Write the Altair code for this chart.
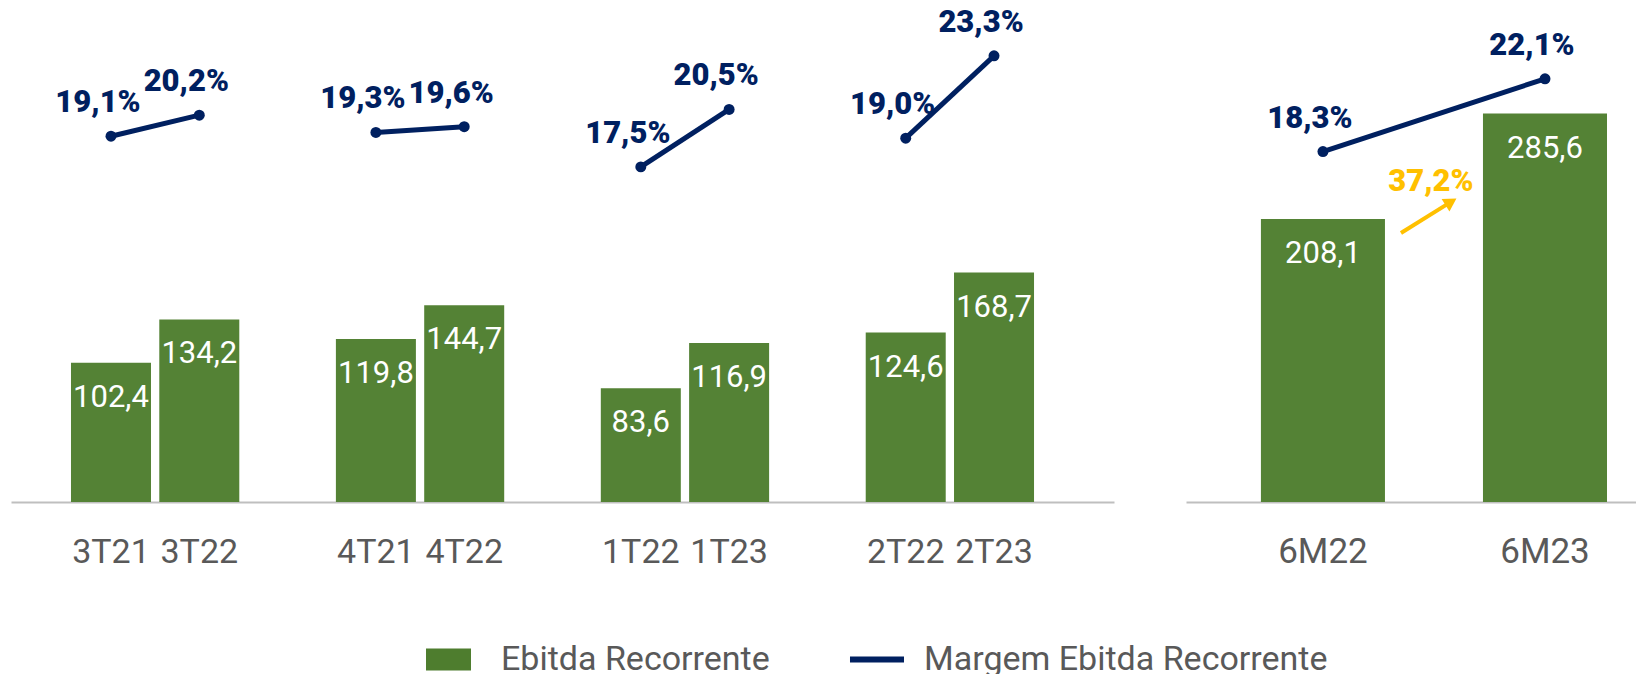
import altair as alt
import pandas as pd

# ---------------- data ----------------
left_periods = ["3T21", "3T22", "4T21", "4T22", "1T22", "1T23", "2T22", "2T23"]
left_pairs = ["3T", "3T", "4T", "4T", "1T", "1T", "2T", "2T"]
left_ebitda = [102.4, 134.2, 119.8, 144.7, 83.6, 116.9, 124.6, 168.7]
left_margin = [19.1, 20.2, 19.3, 19.6, 17.5, 20.5, 19.0, 23.3]
# axis slots (underscore entries are empty spacers between the pairs)
left_slots = ["3T21", "3T22", "_1", "4T21", "4T22", "_2", "1T22", "1T23", "_3", "2T22", "2T23"]

right_periods = ["6M22", "6M23"]
right_pairs = ["6M", "6M"]
right_ebitda = [208.1, 285.6]
right_margin = [18.3, 22.1]

growth_text = ["37,2%"]

legend_series = ["Ebitda Recorrente", "Margem Ebitda Recorrente"]

# ---------------- styling ----------------
GREEN = "#548235"
LEG_GREEN = "#4E7D2E"
NAVY = "#002060"
YELLOW = "#FFC000"
GREY = "#595959"
FONT = "Roboto"

PLOT_H = 494
EB_DOM = [0, PLOT_H / 1.36]
MG_DOM = [0, PLOT_H / 19.15]


def fmt(v):
    return f"{v:.1f}".replace(".", ",")


def make_df(periods, pairs, ebitda, margin):
    df = pd.DataFrame({"period": periods, "pair": pairs, "ebitda": ebitda, "margem": margin})
    df["ebitda_lbl"] = df["ebitda"].map(fmt)
    df["margem_lbl"] = df["margem"].map(lambda v: fmt(v) + "%")
    return df


left_df = make_df(left_periods, left_pairs, left_ebitda, left_margin)
right_df = make_df(right_periods, right_pairs, right_ebitda, right_margin)


def x_axis(size):
    return alt.Axis(
        title=None, labelFont=FONT, labelFontSize=size, labelColor=GREY,
        labelPadding=60, labelBaseline="alphabetic", ticks=False, tickSize=0,
        domainColor="#BFBFBF", domainWidth=2, labelAngle=0, labelOverlap=False,
        labelExpr="slice(datum.value,0,1)=='_' ? '' : datum.value", grid=False,
    )


def eb_y(field="ebitda:Q"):
    return alt.Y(field, scale=alt.Scale(domain=EB_DOM), axis=None)


def mg_y():
    return alt.Y("margem:Q", scale=alt.Scale(domain=MG_DOM), axis=None)


def panel(df, xscale, axis, width, extra):
    base = alt.Chart(df)
    x = alt.X("period:N", scale=xscale, axis=axis, sort=None)
    bars = base.mark_bar(color=GREEN).encode(x=x, y=eb_y())
    bar_txt = base.mark_text(
        font=FONT, fontSize=31, color="white", baseline="alphabetic", align="center", dy=44
    ).encode(x=x, y=eb_y(), text="ebitda_lbl:N")
    line = base.mark_line(color=NAVY, strokeWidth=5).encode(x=x, y=mg_y(), detail="pair:N")
    pts = base.mark_point(filled=True, size=120, color=NAVY, opacity=1).encode(x=x, y=mg_y())
    m_txt = base.mark_text(
        font=FONT, fontSize=31, fontWeight=900, color=NAVY,
        baseline="alphabetic", align="center", dx=-13, dy=-24,
    ).encode(x=x, y=mg_y(), text="margem_lbl:N")
    layers = [bars, bar_txt, line, pts, m_txt] + extra
    return alt.layer(*layers).resolve_scale(y="independent").properties(width=width, height=PLOT_H)


# legend (symbols: filled rectangle and thin bar for the line)
RECT_PATH = "M-2.045,-1H2.045V1H-2.045Z"
LINE_PATH = "M-1.955,-0.273H2.955V0.273H-1.955Z"
leg = alt.Legend(
    title=None, orient="none", legendX=420.5, legendY=634.5, direction="horizontal",
    symbolSize=484, labelOffset=35.5, columnPadding=79, labelFont=FONT,
    labelFontSize=34, labelColor=GREY, labelLimit=800, symbolStrokeWidth=0,
    symbolOpacity=1, padding=0,
)
legend_df = pd.DataFrame({"series": legend_series})
legend_layer = alt.Chart(legend_df).transform_filter("false").mark_point(filled=True).encode(
    color=alt.Color("series:N", scale=alt.Scale(domain=legend_series, range=[LEG_GREEN, NAVY]), legend=leg),
    shape=alt.Shape("series:N", scale=alt.Scale(domain=legend_series, range=[RECT_PATH, LINE_PATH]), legend=leg),
)

left_scale = alt.Scale(domain=left_slots, paddingInner=0.094, paddingOuter=0.7925, align=0.4286)
right_scale = alt.Scale(domain=right_periods, paddingInner=0.4414, paddingOuter=0.234, align=0.721)
left_axis = x_axis(34)
right_axis = x_axis(35)

growth_df = pd.DataFrame({"txt": growth_text})
# growth arrow: from just right of the 6M22 bar to just left of the 6M23 bar
arrow = alt.Chart(growth_df).mark_rule(
    color=YELLOW, strokeWidth=4, xOffset=16, x2Offset=-32
).encode(
    x=alt.X(datum="6M22", bandPosition=1, scale=right_scale, axis=right_axis),
    x2=alt.X2(datum="6M23", bandPosition=0),
    y=alt.Y(datum=197.8, scale=alt.Scale(domain=EB_DOM), axis=None),
    y2=alt.Y2(datum=220.7),
)
arrow_head = alt.Chart(growth_df).mark_point(
    shape="triangle-up", filled=True, size=220, angle=58, color=YELLOW, opacity=1, xOffset=-32
).encode(
    x=alt.X(datum="6M23", bandPosition=0, scale=right_scale, axis=right_axis),
    y=alt.Y(datum=220.7, scale=alt.Scale(domain=EB_DOM), axis=None),
)
growth_lbl = alt.Chart(growth_df).mark_text(
    font=FONT, fontSize=31, fontWeight=900, color=YELLOW, baseline="alphabetic",
    align="center", dx=-52
).encode(
    x=alt.X(datum="6M23", bandPosition=0, scale=right_scale, axis=right_axis),
    y=alt.Y(datum=228.7, scale=alt.Scale(domain=EB_DOM), axis=None),
    text="txt:N",
)

left = panel(left_df, left_scale, left_axis, 1103, [legend_layer])
right = panel(right_df, right_scale, right_axis, 450, [arrow, arrow_head, growth_lbl])

chart = (
    alt.hconcat(left, right, spacing=72)
    .resolve_scale(x="independent", y="independent")
    .properties(padding={"left": 3, "top": -2, "right": 0, "bottom": 0})
    .configure(font=FONT)
    .configure_view(stroke="transparent", strokeWidth=0)
)

chart.save("out.html", embed_options={"renderer": "svg", "actions": False})
